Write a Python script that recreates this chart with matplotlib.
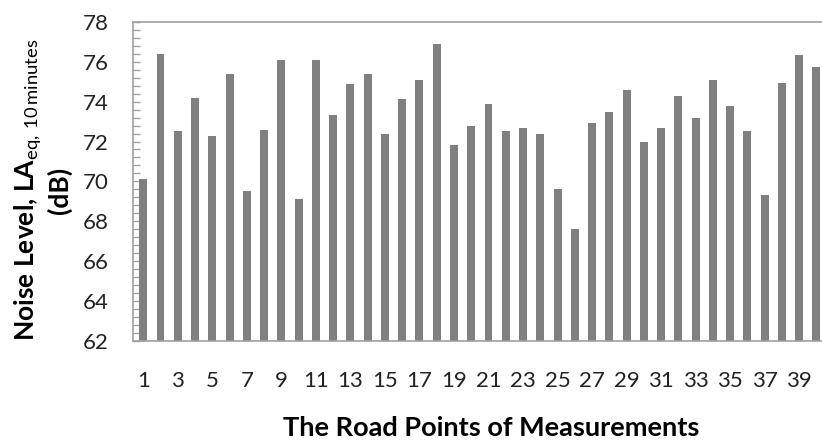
import numpy as np
import matplotlib
matplotlib.use("Agg")
import matplotlib.pyplot as plt
from matplotlib.ticker import MultipleLocator

plt.rcParams['font.family'] = ['Lato', 'DejaVu Sans']
plt.rcParams['mathtext.fontset'] = 'custom'
plt.rcParams['mathtext.rm'] = 'Lato'
plt.rcParams['mathtext.bf'] = 'Lato:bold'

# Data
points = np.arange(1, 41)
noise = [70.1, 76.4, 72.55, 74.2, 72.3, 75.4, 69.5, 72.6, 76.1, 69.1,
         76.1, 73.35, 74.9, 75.4, 72.4, 74.15, 75.1, 76.9, 71.85, 72.8,
         73.9, 72.55, 72.7, 72.4, 69.6, 67.6, 72.95, 73.5, 74.6, 72.0,
         72.7, 74.3, 73.2, 75.1, 73.8, 72.55, 69.3, 74.95, 76.35, 75.75]
xticklabels = [str(i) for i in range(1, 40, 2)]

fig = plt.figure(figsize=(8.22, 4.43), dpi=100)
W, H = 822, 443
left, right, top, bottom = 132.7, 827.0, 22.0, 340.7
ax = fig.add_axes([left / W, 1 - bottom / H, (right - left) / W, (bottom - top) / H])

ax.bar(points, noise, width=0.46, bottom=0, color='#808080', zorder=2)

ax.set_ylim(62, 78)
ax.set_xlim(0.39, 40.61)
ax.yaxis.set_major_locator(MultipleLocator(2))
ax.yaxis.set_minor_locator(MultipleLocator(0.4))
ax.set_xticks(list(range(1, 40, 2)))
ax.set_xticklabels(xticklabels)

spine_col = '#a0a0a0'
for s in ['left', 'bottom', 'top']:
    ax.spines[s].set_color(spine_col)
    ax.spines[s].set_linewidth(1.2)
ax.spines['right'].set_visible(False)

ax.tick_params(axis='y', which='both', direction='in', length=5, width=1,
               color=spine_col, labelsize=16, pad=17, labelcolor='#222222')
ax.tick_params(axis='x', which='both', length=0, labelsize=16, pad=22,
               labelcolor='#222222')

fig.text(42 / W, 1 - 190 / H,
         "Noise Level, LA$_{\\mathrm{eq,\\,10\\,minutes}}$\n(dB)",
         rotation=90, ha='center', va='center', multialignment='center',
         fontsize=19, fontweight='bold', color='black', linespacing=1.2)

fig.text(491 / W, 1 - 428 / H, "The Road Points of Measurements",
         ha='center', va='center', fontsize=19.5, fontweight='bold', color='black')

fig.savefig("out.png", dpi=100)
